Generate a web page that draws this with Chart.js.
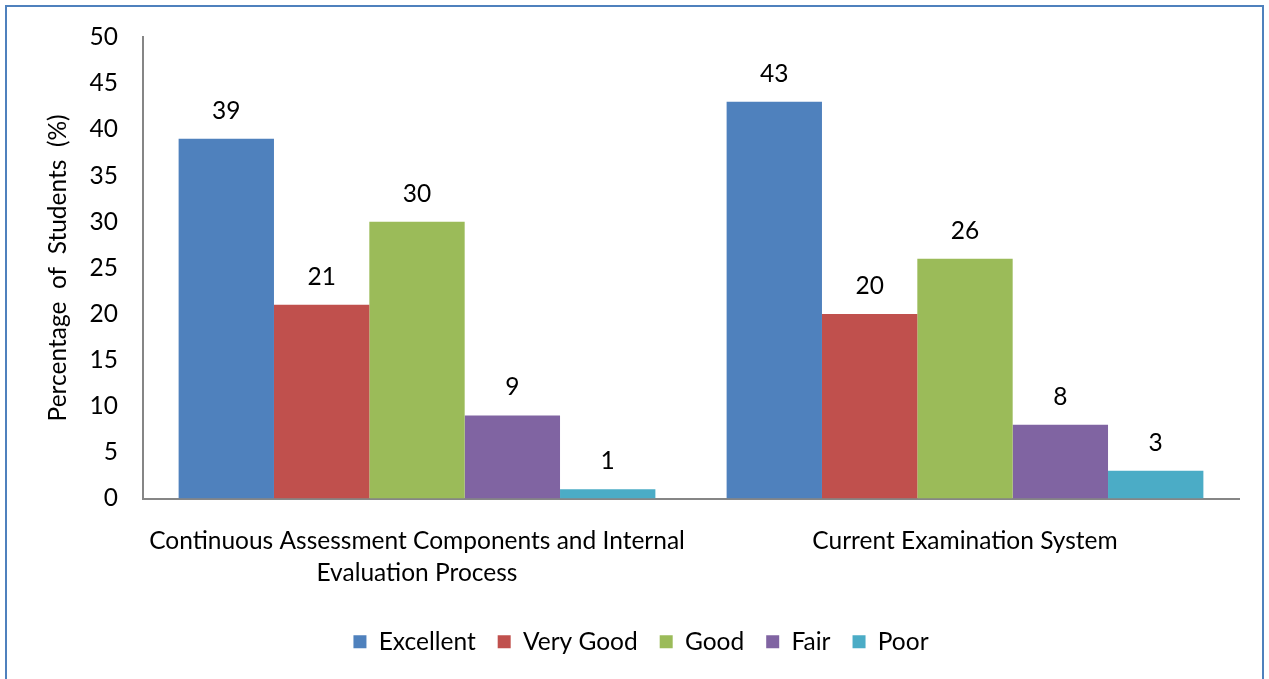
<!DOCTYPE html>
<html>
<head>
<meta charset="utf-8">
<script src="https://cdn.jsdelivr.net/npm/chart.js@4"></script>
<style>
  html, body { margin: 0; padding: 0; background: #fff; }
  #wrap { position: relative; width: 1269px; height: 679px; }
  #frame { position: absolute; left: 5px; top: 5px; width: 1259px; height: 690px; border: 2px solid #4F81BD; pointer-events: none; box-sizing: border-box; }
  canvas { position: absolute; left: 0; top: 0; }
</style>
</head>
<body>
<div id="wrap">
  <canvas id="c" width="1269" height="679"></canvas>
  <div id="frame"></div>
</div>
<script>
const categories = [
  ["Continuous Assessment Components and Internal", "Evaluation Process"],
  "Current Examination System"
];
const seriesNames = ["Excellent", "Very Good", "Good", "Fair", "Poor"];
const excellent = [39, 43];
const veryGood = [21, 20];
const good = [30, 26];
const fair = [9, 8];
const poor = [1, 3];
const seriesColors = ["#4F81BD", "#C0504D", "#9BBB59", "#8064A2", "#4BACC6"];
const yTicks = { min: 0, max: 50, step: 5 };

const FONT = "Lato";
const FS = 24.5;
const values = [excellent, veryGood, good, fair, poor];

const valueLabels = {
  id: "valueLabels",
  afterDatasetsDraw(chart) {
    const ctx = chart.ctx;
    ctx.save();
    ctx.font = FS + "px " + FONT;
    ctx.fillStyle = "#000";
    ctx.textAlign = "center";
    ctx.textBaseline = "middle";
    chart.data.datasets.forEach((ds, i) => {
      const meta = chart.getDatasetMeta(i);
      meta.data.forEach((el, j) => {
        ctx.fillText(String(ds.data[j]), el.x, el.y - 28);
      });
    });
    ctx.restore();
  }
};

new Chart(document.getElementById("c"), {
  type: "bar",
  data: {
    labels: categories,
    datasets: seriesNames.map((n, i) => ({
      label: n,
      data: values[i],
      backgroundColor: seriesColors[i],
      borderWidth: 0,
      categoryPercentage: 0.87,
      barPercentage: 1.0
    }))
  },
  options: {
    responsive: false,
    animation: false,
    devicePixelRatio: 1,
    layout: { padding: { left: 43, right: 30, top: 36, bottom: 15 } },
    plugins: {
      legend: {
        position: "bottom",
        labels: {
          boxWidth: 13, boxHeight: 13, padding: 22,
          color: "#000",
          font: { family: FONT, size: FS }
        }
      },
      tooltip: { enabled: false }
    },
    scales: {
      x: {
        grid: { display: false, drawTicks: false },
        border: { display: true, color: "#868686", width: 2 },
        ticks: { color: "#000", padding: 27, maxRotation: 0, autoSkip: false, font: { family: FONT, size: FS, lineHeight: 1.3 } },
        afterFit(s) { s.height = 109; }
      },
      y: {
        min: yTicks.min, max: yTicks.max,
        grid: { display: false, drawTicks: false },
        border: { display: true, color: "#868686", width: 2 },
        ticks: { stepSize: yTicks.step, color: "#000", padding: 25, font: { family: FONT, size: FS, lineHeight: 1.0 } },
        title: { display: true, text: "Percentage  of  Students  (%)", color: "#000", padding: { top: 0, bottom: 0 }, font: { family: FONT, size: FS, lineHeight: 1.2 } },
        afterFit(s) { s.width = 100; }
      }
    }
  },
  plugins: [valueLabels]
});
</script>
</body>
</html>
